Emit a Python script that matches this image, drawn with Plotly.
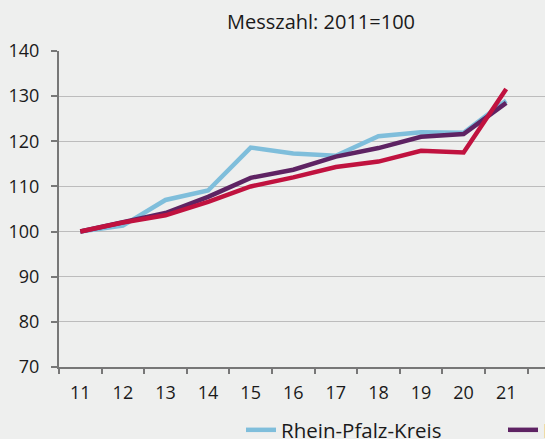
import plotly.graph_objects as go

years = ["11", "12", "13", "14", "15", "16", "17", "18", "19", "20", "21"]
rhein_pfalz_kreis = [100, 101.3, 107.0, 109.1, 118.6, 117.3, 116.8, 121.1, 122.0, 121.9, 129.0]
rheinland_pfalz = [100, 102.1, 104.1, 107.7, 111.9, 113.7, 116.6, 118.5, 121.0, 121.6, 128.5]
deutschland = [100, 102.0, 103.6, 106.6, 110.0, 112.0, 114.3, 115.5, 117.9, 117.5, 131.6]

series_names = ["Rhein-Pfalz-Kreis", "Rheinland-Pfalz", "Deutschland"]
colors = ["#7fbedb", "#5e2363", "#c0123f"]

W, H = 800, 480
L, R_edge, T, B = 59, 584, 51, 367

fig = go.Figure()
for name, vals, col in zip(series_names, [rhein_pfalz_kreis, rheinland_pfalz, deutschland], colors):
    fig.add_trace(go.Scatter(x=years, y=vals, name=name, mode="lines",
                             line=dict(color=col, width=4.5)))

bg = "#eeefee"
fig.update_layout(
    width=W, height=H,
    margin=dict(l=L, r=W - R_edge, t=T, b=H - B),
    paper_bgcolor=bg, plot_bgcolor=bg,
    font=dict(family="Open Sans", size=18, color="#1a1a1a"),
    title=dict(text="Messzahl: 2011=100", x=321 / W, xanchor="center",
               xref="container", y=1 - 22 / H, yanchor="middle",
               font=dict(size=20, color="#1a1a1a")),
    showlegend=True,
    legend=dict(orientation="h", xref="container", x=241 / W, xanchor="left",
                yref="container", y=1 - 410 / H, yanchor="top",
                entrywidth=217, entrywidthmode="pixels",
                font=dict(size=20.5), bgcolor="rgba(0,0,0,0)"),
)
fig.update_xaxes(type="category", range=[-0.5, (R_edge - 79) / 42.7],
                 tickson="boundaries", ticks="outside", ticklen=5, tickwidth=1.5,
                 tickcolor="#777777", showline=True, linecolor="#777777", linewidth=2,
                 showgrid=False, zeroline=False, ticklabelstandoff=8, automargin=False)
fig.update_yaxes(range=[70, 140], dtick=10, tick0=70, ticks="outside", ticklen=6,
                 tickwidth=1.5, tickcolor="#777777", showline=True, linecolor="#777777",
                 linewidth=2, showgrid=True, gridcolor="#bcbcbc", gridwidth=1,
                 zeroline=False, ticklabelstandoff=8, automargin=False)

fig.write_html("out.html", post_script=(
    "document.body.style.margin='0';document.body.style.overflow='hidden';"
    "document.documentElement.style.overflow='hidden';"))
